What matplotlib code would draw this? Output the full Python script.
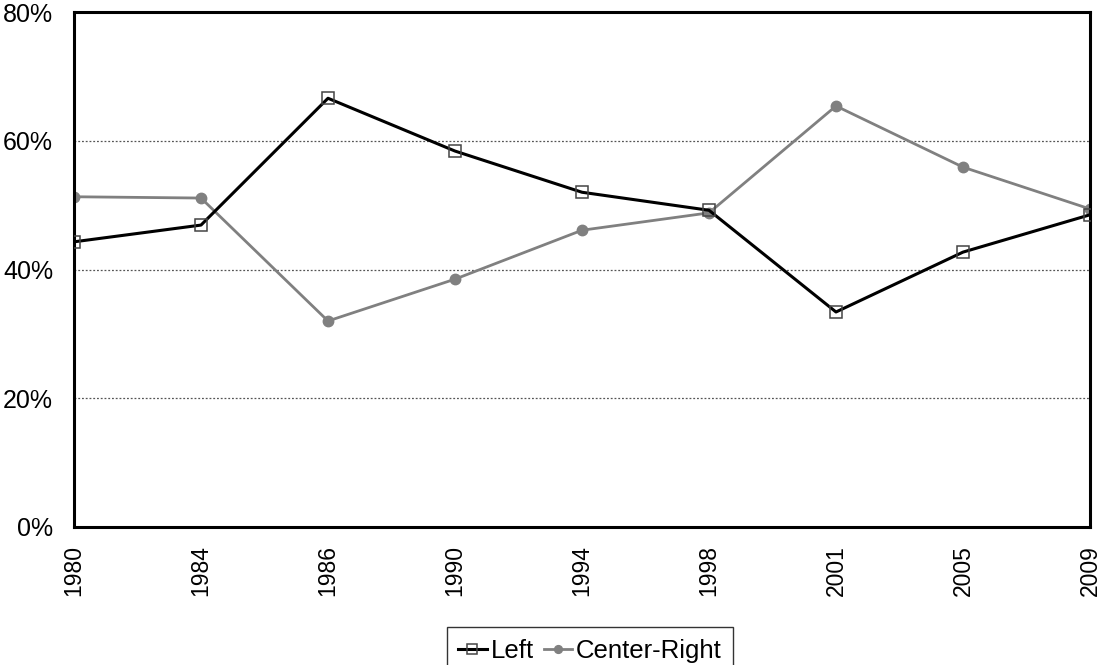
import matplotlib
matplotlib.use("Agg")
import matplotlib.pyplot as plt
from matplotlib.ticker import PercentFormatter

years = ["1980", "1984", "1986", "1990", "1994", "1998", "2001", "2005", "2009"]
left = [44.3, 46.9, 66.6, 58.4, 52.0, 49.2, 33.4, 42.7, 48.5]
center_right = [51.3, 51.1, 32.0, 38.5, 46.1, 48.8, 65.4, 55.9, 49.4]

plt.rcParams['font.family'] = ['Liberation Sans', 'DejaVu Sans']

fig = plt.figure(figsize=(11, 6.65), dpi=100)
ax = fig.add_axes([74 / 1100, 1 - 527 / 665, (1090 - 74) / 1100, (527 - 12) / 665])

x = list(range(len(years)))
ax.plot(x, left, color='black', lw=2.2, marker='s', ms=9,
        mfc='none', mec='#444444', mew=1.1, label='Left', zorder=3)
ax.plot(x, center_right, color='#808080', lw=2.0, marker='o', ms=7.5,
        mfc='#808080', mec='#808080', label='Center-Right', zorder=2)

ax.set_xlim(0, len(years) - 1)
ax.set_ylim(0, 80)
ax.set_yticks([0, 20, 40, 60, 80])
ax.yaxis.set_major_formatter(PercentFormatter(decimals=0))
ax.set_xticks(x)
ax.set_xticklabels(years, rotation=90)
ax.tick_params(axis='y', length=0, labelsize=18, pad=15)
ax.tick_params(axis='x', length=0, labelsize=16.5, pad=13)
for s in ax.spines.values():
    s.set_linewidth(2.2)
    s.set_color('black')
ax.grid(axis='y', color='#555555', linestyle=(0, (1.5, 1.5)), lw=0.9)
ax.set_axisbelow(True)

leg = fig.legend(loc='upper center', bbox_to_anchor=(590 / 1100, 1 - 627 / 665),
                 ncol=2, fontsize=18.5, frameon=True, fancybox=False,
                 edgecolor='black', handlelength=1.1, handletextpad=0.15,
                 columnspacing=0.4, borderpad=0.45, borderaxespad=0,
                 markerscale=0.75)
leg.get_frame().set_linewidth(1.0)

fig.savefig('out.png', dpi=100)
